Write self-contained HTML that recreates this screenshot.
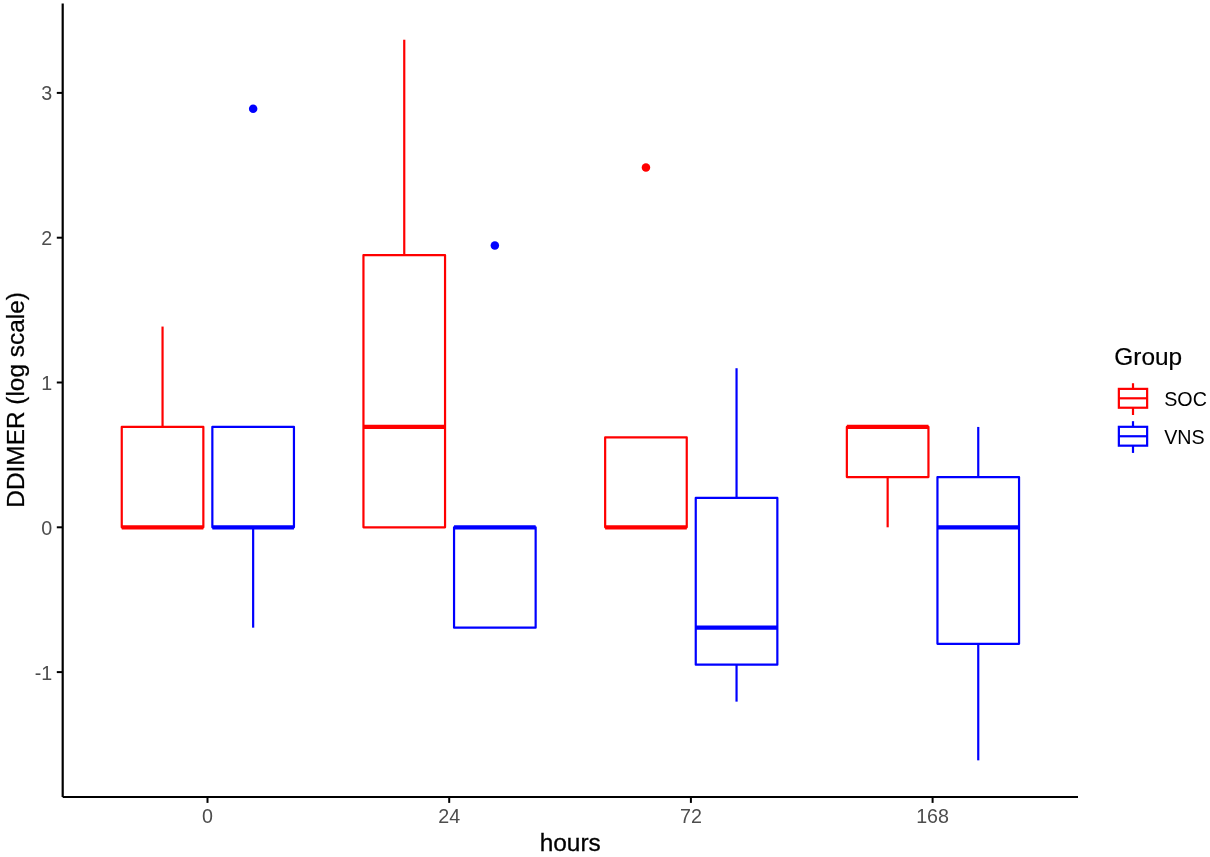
<!DOCTYPE html>
<html lang="en"><head><meta charset="utf-8"><title>DDIMER boxplot</title>
<style>html,body{margin:0;padding:0;background:#fff}svg{display:block}</style></head>
<body>
<svg width="1210" height="857" viewBox="0 0 1210 857">
<rect width="1210" height="857" fill="#fff"/>
<g stroke="#FF0000" fill="none" stroke-width="2.2" stroke-linejoin="round"><line x1="162.55" y1="426.93" x2="162.55" y2="326.56"/><rect x="121.75" y="426.93" width="81.60" height="100.37" fill="#fff"/><line x1="121.75" y1="527.30" x2="203.35" y2="527.30" stroke-width="4.3"/></g>
<g stroke="#0000FF" fill="none" stroke-width="2.2" stroke-linejoin="round"><line x1="253.15" y1="527.30" x2="253.15" y2="627.67"/><rect x="212.35" y="426.93" width="81.60" height="100.37" fill="#fff"/><line x1="212.35" y1="527.30" x2="293.95" y2="527.30" stroke-width="4.3"/><circle cx="253.15" cy="108.77" r="4.25" fill="#0000FF" stroke="none"/></g>
<g stroke="#FF0000" fill="none" stroke-width="2.2" stroke-linejoin="round"><line x1="404.25" y1="255.08" x2="404.25" y2="39.72"/><rect x="363.45" y="255.08" width="81.60" height="272.22" fill="#fff"/><line x1="363.45" y1="426.93" x2="445.05" y2="426.93" stroke-width="4.3"/></g>
<g stroke="#0000FF" fill="none" stroke-width="2.2" stroke-linejoin="round"><rect x="454.05" y="527.30" width="81.60" height="100.37" fill="#fff"/><line x1="454.05" y1="527.30" x2="535.65" y2="527.30" stroke-width="4.3"/><circle cx="494.85" cy="245.53" r="4.25" fill="#0000FF" stroke="none"/></g>
<g stroke="#FF0000" fill="none" stroke-width="2.2" stroke-linejoin="round"><rect x="605.15" y="437.38" width="81.60" height="89.92" fill="#fff"/><line x1="605.15" y1="527.30" x2="686.75" y2="527.30" stroke-width="4.3"/><circle cx="645.95" cy="167.49" r="4.25" fill="#FF0000" stroke="none"/></g>
<g stroke="#0000FF" fill="none" stroke-width="2.2" stroke-linejoin="round"><line x1="736.55" y1="497.95" x2="736.55" y2="368.22"/><line x1="736.55" y1="664.66" x2="736.55" y2="701.64"/><rect x="695.75" y="497.95" width="81.60" height="166.71" fill="#fff"/><line x1="695.75" y1="627.67" x2="777.35" y2="627.67" stroke-width="4.3"/></g>
<g stroke="#FF0000" fill="none" stroke-width="2.2" stroke-linejoin="round"><line x1="887.65" y1="477.12" x2="887.65" y2="527.30"/><rect x="846.85" y="426.93" width="81.60" height="50.18" fill="#fff"/><line x1="846.85" y1="426.93" x2="928.45" y2="426.93" stroke-width="4.3"/></g>
<g stroke="#0000FF" fill="none" stroke-width="2.2" stroke-linejoin="round"><line x1="978.25" y1="477.12" x2="978.25" y2="426.93"/><line x1="978.25" y1="643.82" x2="978.25" y2="760.35"/><rect x="937.45" y="477.12" width="81.60" height="166.71" fill="#fff"/><line x1="937.45" y1="527.30" x2="1019.05" y2="527.30" stroke-width="4.3"/></g>
<g stroke="#000" stroke-width="2.2" fill="none">
<line x1="62.7" y1="3.5" x2="62.7" y2="797.0"/>
<line x1="62.7" y1="797.0" x2="1078" y2="797.0"/>
<line x1="56.800000000000004" y1="672.10" x2="62.7" y2="672.10" stroke-width="2"/>
<line x1="56.800000000000004" y1="527.30" x2="62.7" y2="527.30" stroke-width="2"/>
<line x1="56.800000000000004" y1="382.50" x2="62.7" y2="382.50" stroke-width="2"/>
<line x1="56.800000000000004" y1="237.70" x2="62.7" y2="237.70" stroke-width="2"/>
<line x1="56.800000000000004" y1="92.90" x2="62.7" y2="92.90" stroke-width="2"/>
<line x1="207.50" y1="797.0" x2="207.50" y2="802.9" stroke-width="2"/>
<line x1="449.20" y1="797.0" x2="449.20" y2="802.9" stroke-width="2"/>
<line x1="690.90" y1="797.0" x2="690.90" y2="802.9" stroke-width="2"/>
<line x1="932.60" y1="797.0" x2="932.60" y2="802.9" stroke-width="2"/>
</g>
<g font-family="Liberation Sans, Arial, sans-serif" font-size="19.7" fill="#4D4D4D">
<text x="52.2" y="679.60" text-anchor="end">-1</text>
<text x="52.2" y="534.80" text-anchor="end">0</text>
<text x="52.2" y="390.00" text-anchor="end">1</text>
<text x="52.2" y="245.20" text-anchor="end">2</text>
<text x="52.2" y="100.40" text-anchor="end">3</text>
<text x="207.50" y="823.0" text-anchor="middle">0</text>
<text x="449.20" y="823.0" text-anchor="middle">24</text>
<text x="690.90" y="823.0" text-anchor="middle">72</text>
<text x="932.60" y="823.0" text-anchor="middle">168</text>
</g>
<g font-family="Liberation Sans, Arial, sans-serif" fill="#000">
<text x="570.2" y="850.8" font-size="24.4" stroke="#000" stroke-width="0.3" text-anchor="middle">hours</text>
<text transform="translate(23.5,399.9) rotate(-90)" font-size="24.4" stroke="#000" stroke-width="0.25" text-anchor="middle">DDIMER (log scale)</text>
<text x="1114.3" y="365.2" font-size="24.4" stroke="#000" stroke-width="0.2">Group</text>
<text x="1164.2" y="406.4" font-size="19.7">SOC</text>
<text x="1164.2" y="444.2" font-size="19.7">VNS</text>
</g>
<g stroke="#FF0000" stroke-width="2.2" fill="none"><line x1="1133.0" y1="383.22" x2="1133.0" y2="388.88"/><line x1="1133.0" y1="407.72" x2="1133.0" y2="414.98"/><rect x="1118.86" y="388.88" width="28.28" height="18.85"/><line x1="1118.86" y1="398.3" x2="1147.14" y2="398.3"/></g>
<g stroke="#0000FF" stroke-width="2.2" fill="none"><line x1="1133.0" y1="421.17" x2="1133.0" y2="426.82"/><line x1="1133.0" y1="445.67" x2="1133.0" y2="452.93"/><rect x="1118.86" y="426.82" width="28.28" height="18.85"/><line x1="1118.86" y1="436.25" x2="1147.14" y2="436.25"/></g>
</svg>
</body></html>
